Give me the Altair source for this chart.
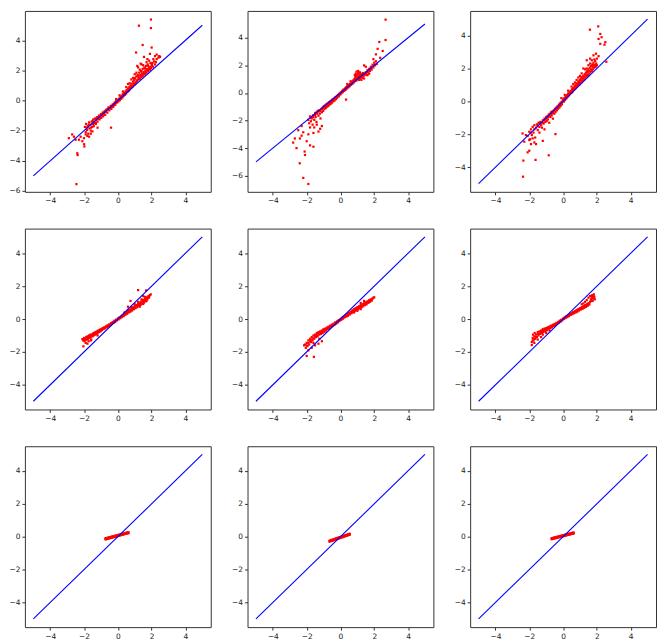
import altair as alt
import pandas as pd

# ---------------- data ----------------
LINE_X = [-5]
LINE_X2 = [5]
LINE_Y = [-5]
LINE_Y2 = [5]
X_TICKS = [-4, -2, 0, 2, 4]
X_DOMAIN = [-5.5, 5.5]

P1 = [
(-1.95,-1.75),(-1.9,-2.1),(-1.88,-1.55),(-1.82,-1.95),(-1.78,-1.7),(-1.75,-2.2),(-1.7,-1.45),(-1.68,-1.85),(-1.62,-1.6),(-1.6,-2.0),
(-1.55,-1.4),(-1.52,-1.75),(-1.48,-1.55),(-1.45,-1.25),(-1.42,-1.7),(-1.38,-1.4),(-1.35,-1.2),(-1.3,-1.5),(-1.27,-1.3),(-1.22,-1.1),
(-1.2,-1.4),(-1.15,-1.2),(-1.12,-1.0),(-1.08,-1.25),(-1.05,-1.05),(-1.0,-0.9),(-0.98,-1.15),(-0.93,-0.95),(-0.9,-0.8),(-0.87,-1.05),
(-0.82,-0.85),(-0.78,-0.7),(-0.75,-0.95),(-0.7,-0.75),(-0.66,-0.6),(-0.62,-0.8),(-0.58,-0.6),(-0.55,-0.45),(-0.5,-0.65),(-0.47,-0.5),
(-0.42,-0.35),(-0.38,-0.55),(-0.35,-0.4),(-0.3,-0.25),(-0.27,-0.42),(-0.22,-0.3),(-0.18,-0.12),(-0.15,-0.28),(-0.1,-0.15),(-0.06,0.0),
(-0.03,-0.12),(0.0,0.05),(0.04,-0.05),(0.08,0.12),(0.12,0.02),(0.15,0.22),(0.2,0.12),(0.22,0.32),(0.27,0.2),(0.3,0.42),
(0.34,0.3),(0.38,0.5),(0.42,0.38),(0.45,0.6),(0.5,0.48),(0.52,0.7),(0.57,0.58),(0.6,0.8),(0.64,0.65),(0.68,0.9),
(0.72,0.75),(0.75,1.0),(0.8,0.85),(0.82,1.12),(0.87,0.95),(0.9,1.25),(0.94,1.05),(0.97,1.35),(1.0,1.1),(1.03,1.5),
(1.07,1.2),(1.1,1.6),(1.13,1.3),(1.17,1.7),(1.2,1.4),(1.23,1.55),(1.27,1.85),(1.3,1.45),(1.33,1.7),(1.37,1.95),
(1.4,1.55),(1.43,1.8),(1.47,2.1),(1.5,1.65),(1.53,1.9),(1.57,2.2),(1.6,1.75),(1.63,2.0),(1.67,2.3),(1.7,1.85),
(1.73,2.1),(1.77,2.4),(1.8,1.95),(1.85,2.2),(1.9,2.05),(1.93,2.5),(1.97,2.15),(2.02,2.35),(2.08,2.25),(2.15,2.6),
(2.2,2.4),(2.3,2.75),(2.4,2.85),(2.5,2.9),(0.5,0.9),(0.7,1.15),(0.9,1.5),(1.1,1.85),(1.3,2.05),(1.5,2.35),
(1.7,2.55),(0.3,0.6),(0.1,0.35),(-0.1,0.1),(1.0,1.75),(1.2,2.2),(1.4,2.4),
(-1.85,-1.8),(-1.72,-1.6),(-1.58,-1.8),(-1.5,-1.35),(-1.4,-1.5),(-1.3,-1.2),(-1.2,-1.2),(-1.1,-1.1),(-1.0,-1.0),(-0.9,-0.95),
(-0.8,-0.78),(-0.7,-0.65),(-0.6,-0.55),(-0.5,-0.5),(-0.4,-0.42),(-0.3,-0.32),(-0.2,-0.2),(-0.1,-0.05),(0.05,0.05),(0.15,0.12),
(0.25,0.25),(0.35,0.38),(0.45,0.45),(0.55,0.6),(0.65,0.72),(0.75,0.85),(0.85,0.95),(0.95,1.1),(1.05,1.2),(1.15,1.35),
(1.25,1.45),(1.35,1.6),(1.45,1.7),(1.55,1.8),(1.65,1.9),(1.75,2.0),(1.85,2.1),(1.95,2.25),(2.05,2.5),(2.25,2.55),
(0.6,1.1),(0.8,1.4),(1.0,1.45),(1.2,1.65),(1.4,1.95),(1.6,2.15),(1.8,2.3),(2.0,2.45),
(-2.45,-5.55),(1.96,5.38),(1.25,4.97),(1.96,4.81),(1.47,3.69),(2.0,3.52),(1.08,3.19),(2.3,3.05),(2.2,2.95),(2.45,2.95),
(1.9,3.1),(1.75,2.75),(1.35,2.45),(1.15,2.3),(2.1,2.75),(1.55,2.9),(1.85,2.65),
(-2.4,-3.5),(-2.38,-3.62),(-2.0,-2.9),(-1.98,-3.05),(-2.1,-2.7),(-2.3,-2.6),(-2.6,-2.4),(-2.9,-2.5),(-2.7,-2.25),(-1.8,-2.35),
(-1.5,-2.05),(-0.4,-1.8),(-1.9,-2.25),(-1.6,-2.2),(-1.3,-1.55),(-1.2,-1.8),(-2.2,-2.4),(-2.5,-2.6),(-2.0,-2.5),(-1.7,-2.4),
]

P2 = [
(-1.9,-1.95),(-1.85,-2.2),(-1.8,-1.7),(-1.75,-2.05),(-1.7,-1.85),(-1.65,-2.3),(-1.6,-1.6),(-1.55,-1.95),(-1.5,-1.45),(-1.47,-1.75),
(-1.42,-2.1),(-1.38,-1.5),(-1.35,-1.3),(-1.3,-1.65),(-1.25,-1.25),(-1.22,-1.5),(-1.18,-1.85),(-1.15,-1.2),(-1.1,-1.4),(-1.05,-1.05),
(-1.02,-1.3),(-0.98,-0.95),(-0.95,-1.15),(-0.9,-0.9),(-0.87,-1.1),(-0.82,-0.8),(-0.8,-1.0),(-0.75,-0.75),(-0.72,-0.95),(-0.68,-0.68),
(-0.65,-0.85),(-0.6,-0.6),(-0.57,-0.78),(-0.52,-0.55),(-0.5,-0.7),(-0.45,-0.45),(-0.42,-0.6),(-0.38,-0.4),(-0.35,-0.55),(-0.3,-0.3),
(-0.27,-0.45),(-0.22,-0.22),(-0.2,-0.35),(-0.15,-0.15),(-0.1,-0.25),(-0.06,-0.05),(-0.02,-0.12),
(0.02,0.05),(0.06,-0.02),(0.1,0.15),(0.14,0.08),(0.18,0.25),(0.22,0.15),(0.26,0.3),(0.3,0.22),(0.34,0.42),(0.38,0.32),
(0.42,0.5),(0.46,0.4),(0.5,0.6),(0.54,0.48),(0.58,0.68),(0.62,0.58),(0.66,0.8),(0.7,0.65),(0.74,0.9),(0.78,0.75),
(0.82,1.0),(0.85,0.85),(0.88,1.15),(0.9,0.95),(0.93,1.25),(0.96,1.05),(1.0,1.35),(1.02,1.1),(1.05,1.45),(1.08,1.2),
(1.1,0.95),(1.12,1.3),(1.15,1.05),(1.18,1.4),(1.2,1.2),(1.24,0.95),(1.27,1.3),(1.3,1.1),(1.33,1.45),(1.37,1.25),
(1.4,1.05),(1.45,1.35),(1.5,1.5),(1.55,1.3),(1.6,1.65),(1.65,1.5),(1.7,1.75),(1.75,1.6),(1.8,1.9),(1.85,1.7),
(1.9,2.05),(1.95,1.85),(2.0,2.2),(2.05,2.0),(2.1,2.3),(2.15,2.1),(0.9,1.4),(0.95,1.55),(1.05,1.6),(0.6,0.85),
(0.4,0.65),(1.6,1.3),(1.7,1.4),(0.33,-0.48),
(-1.75,-1.8),(-1.62,-1.75),(-1.5,-1.6),(-1.4,-1.4),(-1.3,-1.35),(-1.2,-1.3),(-1.1,-1.15),(-1.0,-1.1),(-0.9,-1.0),(-0.8,-0.85),
(-0.7,-0.8),(-0.6,-0.7),(-0.5,-0.55),(-0.4,-0.5),(-0.3,-0.38),(-0.2,-0.28),(-0.1,-0.12),(0.0,-0.05),(0.1,0.05),(0.2,0.2),
(0.3,0.35),(0.4,0.45),(0.5,0.5),(0.6,0.65),(0.7,0.8),(0.8,0.9),(0.9,1.1),(1.0,1.2),(1.1,1.1),(1.2,1.35),
(1.3,1.25),(1.4,1.3),(1.5,1.4),(1.6,1.5),(1.8,1.75),(2.0,2.05),(0.85,1.3),(1.15,1.5),(1.25,1.15),(0.95,0.9),
(2.67,5.32),(2.67,3.84),(2.3,3.7),(2.5,3.05),(2.2,3.2),(2.1,2.8),(2.35,2.55),(1.95,2.45),(1.4,2.0),(1.5,1.9),
(-1.9,-6.6),(-2.2,-6.16),(-2.41,-5.1),(-2.1,-4.5),(-2.12,-4.25),(-2.6,-4.0),(-2.8,-3.6),(-2.7,-3.3),(-1.6,-3.9),(-1.8,-3.8),
(-2.0,-3.5),(-2.3,-3.1),(-2.5,-2.7),(-2.2,-2.85),(-1.6,-2.9),(-1.3,-2.8),(-1.1,-2.4),(-1.2,-2.6),(-1.9,-3.0),(-2.4,-3.3),
(-1.8,-2.5),(-2.3,-2.4),(-1.55,-2.5),(-1.4,-2.3),
]

P3 = [
(-2.1,-2.1),(-2.0,-1.85),(-1.95,-2.3),(-1.9,-1.7),(-1.85,-2.05),(-1.8,-1.55),(-1.75,-1.9),(-1.7,-1.45),(-1.65,-2.2),(-1.6,-1.6),
(-1.55,-1.4),(-1.5,-1.75),(-1.45,-1.3),(-1.4,-1.55),(-1.35,-1.25),(-1.3,-1.45),(-1.25,-1.6),(-1.2,-1.15),(-1.15,-1.35),(-1.1,-1.05),
(-1.05,-1.25),(-1.0,-0.95),(-0.97,-1.2),(-0.92,-0.9),(-0.9,-1.1),(-0.85,-0.8),(-0.82,-1.3),(-0.78,-0.75),(-0.75,-0.95),(-0.7,-0.65),
(-0.67,-0.85),(-0.62,-0.6),(-0.6,-1.05),(-0.55,-0.55),(-0.52,-0.75),(-0.48,-0.45),(-0.45,-0.65),(-0.4,-0.38),(-0.37,-0.55),(-0.33,-0.3),
(-0.3,-0.45),(-0.25,-0.2),(-0.22,-0.38),(-0.18,-0.12),(-0.15,-0.28),(-0.1,-0.05),(-0.07,-0.18),(-0.03,0.02),
(0.0,0.1),(0.04,-0.02),(0.08,0.2),(0.12,0.08),(0.15,0.3),(0.2,0.18),(0.23,0.38),(0.27,0.28),(0.3,0.48),(0.34,0.36),
(0.38,0.56),(0.42,0.44),(0.45,0.64),(0.5,0.52),(0.53,0.74),(0.57,0.6),(0.6,0.82),(0.65,0.7),(0.68,0.92),(0.72,0.8),
(0.75,1.02),(0.8,0.88),(0.83,1.1),(0.87,0.98),(0.9,1.2),(0.95,1.05),(0.98,1.3),(1.02,1.12),(1.05,1.4),(1.1,1.2),
(1.13,1.48),(1.17,1.28),(1.2,1.56),(1.25,1.35),(1.28,1.65),(1.32,1.45),(1.35,1.75),(1.4,1.52),(1.43,1.85),(1.47,1.6),
(1.5,1.95),(1.55,1.68),(1.58,2.05),(1.62,1.78),(1.66,2.15),(1.7,1.85),(1.73,2.25),(1.77,1.95),(1.8,2.35),(1.84,2.05),
(1.88,2.2),(1.92,2.1),(1.96,2.3),(2.0,2.2),(1.85,2.55),(1.7,2.5),(0.5,0.9),(0.7,1.15),(0.9,1.45),(1.1,1.7),
(1.3,1.95),(0.3,0.65),(0.1,0.4),(-0.1,0.2),(1.5,2.2),(1.2,2.0),
(-1.9,-1.9),(-1.7,-1.7),(-1.5,-1.5),(-1.4,-1.35),(-1.3,-1.3),(-1.2,-1.3),(-1.1,-1.15),(-1.0,-1.05),(-0.9,-0.95),(-0.8,-0.9),
(-0.7,-0.75),(-0.6,-0.7),(-0.5,-0.55),(-0.4,-0.48),(-0.3,-0.35),(-0.2,-0.25),(-0.1,-0.12),(0.05,0.15),(0.15,0.22),(0.25,0.35),
(0.35,0.45),(0.45,0.55),(0.55,0.68),(0.65,0.8),(0.75,0.92),(0.85,1.05),(0.95,1.18),(1.05,1.28),(1.15,1.4),(1.25,1.5),
(1.35,1.6),(1.45,1.75),(1.55,1.85),(1.65,1.95),(1.75,2.1),(1.85,2.2),(1.95,2.15),(0.6,1.05),(0.8,1.3),(1.0,1.55),
(1.4,2.0),(1.6,2.3),
(-2.37,-4.58),(-2.35,-3.6),(-1.63,-3.56),(-0.85,-3.28),(-2.1,-3.1),(-2.0,-3.0),(-1.9,-2.6),(-1.7,-2.5),(-1.6,-2.6),(-1.2,-2.4),
(-0.45,-1.99),(-2.4,-1.95),(-2.2,-2.05),(-2.0,-2.35),(-1.8,-2.25),(-2.3,-2.45),(-1.4,-1.9),(-1.1,-1.7),
(1.59,4.36),(2.08,4.56),(2.2,4.1),(2.28,3.9),(2.1,3.8),(2.2,3.5),(2.5,3.6),(2.45,3.45),(1.8,2.8),(1.6,2.6),
(2.0,2.6),(2.56,2.41),(1.4,2.5),(1.75,2.2),(1.9,2.45),(2.1,2.75),(1.95,2.9),
]

P4 = [
(-2.1,-1.22),(-2.05,-1.3),(-2.0,-1.15),(-1.97,-1.35),(-1.93,-1.2),(-1.9,-1.45),(-1.87,-1.1),(-1.83,-1.25),(-1.8,-1.05),(-1.77,-1.2),
(-1.73,-1.35),(-1.7,-1.0),(-1.67,-1.15),(-1.63,-0.95),(-1.6,-1.1),(-1.57,-1.25),(-1.53,-0.95),(-1.5,-1.05),(-1.47,-0.88),(-1.43,-1.0),
(-1.4,-0.85),(-1.37,-0.95),(-1.33,-0.8),(-1.3,-0.92),(-1.27,-0.78),(-1.23,-0.88),(-1.2,-0.72),(-1.17,-0.82),(-1.13,-0.7),(-1.1,-0.78),
(-1.07,-0.65),(-1.03,-0.75),(-1.0,-0.62),(-0.95,-0.68),(-0.9,-0.55),(-0.85,-0.62),(-0.8,-0.5),(-0.75,-0.56),(-0.7,-0.44),(-0.65,-0.5),
(-0.6,-0.38),(-0.55,-0.45),(-0.5,-0.32),(-0.45,-0.38),(-0.4,-0.25),(-0.35,-0.3),(-0.3,-0.18),(-0.25,-0.24),(-0.2,-0.1),(-0.15,-0.16),
(-0.1,-0.04),(-0.05,-0.08),(0.0,0.02),(0.05,-0.02),(0.1,0.1),(0.15,0.05),(0.2,0.16),(0.25,0.12),(0.3,0.24),(0.35,0.18),
(0.4,0.32),(0.45,0.26),(0.5,0.4),(0.55,0.32),(0.6,0.46),(0.65,0.4),(0.7,0.55),(0.75,0.45),(0.8,0.62),(0.85,0.52),
(0.9,0.7),(0.95,0.6),(1.0,0.78),(1.05,0.66),(1.1,0.85),(1.15,0.72),(1.2,0.92),(1.25,0.8),(1.3,1.0),(1.35,0.86),
(1.4,1.08),(1.45,0.92),(1.5,1.15),(1.55,1.0),(1.6,1.22),(1.65,1.08),(1.7,1.3),(1.75,1.2),(1.8,1.38),(1.85,1.3),
(1.9,1.45),(1.95,1.5),(1.6,1.35),(1.4,1.2),(1.2,1.05),(1.0,0.9),(0.8,0.72),(0.6,0.55),(0.4,0.4),(1.3,0.75),
(1.5,0.92),(1.7,1.1),(-1.8,-1.5),(-2.04,-1.66),(1.2,1.76),(1.67,1.74),(0.75,1.1),(0.6,0.75),(1.5,1.4),(-1.6,-1.3),
(-1.2,-1.0),
(-2.0,-1.28),(-1.9,-1.25),(-1.8,-1.15),(-1.7,-1.1),(-1.6,-1.02),(-1.5,-0.95),(-1.4,-0.92),(-1.3,-0.85),(-1.2,-0.8),(-1.1,-0.72),
(-1.0,-0.68),(-0.9,-0.6),(-0.8,-0.55),(-0.7,-0.48),(-0.6,-0.42),(-0.5,-0.36),(-0.4,-0.3),(-0.3,-0.22),(-0.2,-0.14),(-0.1,-0.06),
(0.05,0.06),(0.15,0.1),(0.25,0.2),(0.35,0.26),(0.45,0.34),(0.55,0.4),(0.65,0.48),(0.75,0.55),(0.85,0.62),(0.95,0.7),
(1.05,0.76),(1.15,0.84),(1.25,0.9),(1.35,0.98),(1.45,1.05),(1.55,1.1),(1.65,1.2),(1.75,1.32),(1.85,1.4),
]

P5 = [
(-2.1,-1.55),(-2.05,-1.75),(-2.0,-1.45),(-1.95,-1.65),(-1.9,-1.3),(-1.85,-1.55),(-1.8,-1.2),(-1.75,-1.4),(-1.7,-1.1),(-1.65,-1.3),
(-1.6,-1.0),(-1.55,-1.2),(-1.5,-0.95),(-1.45,-1.1),(-1.4,-0.85),(-1.35,-1.05),(-1.3,-0.8),(-1.25,-0.95),(-1.2,-0.75),(-1.15,-0.9),
(-1.1,-0.7),(-1.05,-0.85),(-1.0,-0.62),(-0.95,-0.78),(-0.9,-0.58),(-0.85,-0.7),(-0.8,-0.52),(-0.75,-0.62),(-0.7,-0.46),(-0.65,-0.55),
(-0.6,-0.4),(-0.55,-0.48),(-0.5,-0.34),(-0.45,-0.42),(-0.4,-0.28),(-0.35,-0.35),(-0.3,-0.2),(-0.25,-0.28),(-0.2,-0.14),(-0.15,-0.2),
(-0.1,-0.06),(-0.05,-0.12),(0.0,0.0),(0.05,-0.05),(0.1,0.08),(0.15,0.02),(0.2,0.15),(0.25,0.1),(0.3,0.22),(0.35,0.15),
(0.4,0.3),(0.45,0.2),(0.5,0.38),(0.55,0.28),(0.6,0.45),(0.65,0.35),(0.7,0.52),(0.75,0.42),(0.8,0.6),(0.85,0.48),
(0.9,0.66),(0.95,0.55),(1.0,0.72),(1.05,0.6),(1.1,0.78),(1.15,0.66),(1.2,0.85),(1.25,0.72),(1.3,0.9),(1.35,0.78),
(1.4,0.96),(1.45,0.85),(1.5,1.02),(1.55,0.9),(1.6,1.08),(1.65,0.98),(1.7,1.15),(1.75,1.05),(1.8,1.2),(1.85,1.12),
(1.9,1.25),(1.95,1.3),(2.0,1.32),(1.0,0.5),(1.2,0.6),(0.8,0.4),(1.4,1.1),(1.2,0.98),
(-2.0,-1.6),(-1.9,-1.45),(-1.8,-1.35),(-1.7,-1.25),(-1.6,-1.15),(-1.5,-1.05),(-1.4,-0.98),(-1.3,-0.9),(-1.2,-0.82),(-1.1,-0.78),
(-1.0,-0.7),(-0.9,-0.64),(-0.8,-0.58),(-0.7,-0.5),(-0.6,-0.44),(-0.5,-0.38),(-0.4,-0.32),(-0.3,-0.24),(-0.2,-0.18),(-0.1,-0.1),
(0.05,0.02),(0.15,0.08),(0.25,0.16),(0.35,0.22),(0.45,0.28),(0.55,0.36),(0.65,0.42),(0.75,0.5),(0.85,0.55),(0.95,0.62),
(1.05,0.68),(1.15,0.74),(1.25,0.8),(1.35,0.86),(1.45,0.92),(1.55,0.98),(1.65,1.05),(1.75,1.1),(1.85,1.18),
(-2.0,-2.24),(-1.57,-2.3),(-1.9,-1.9),(-1.7,-1.75),(-1.3,-1.5),(-1.1,-1.35),(-1.5,-1.6),(-1.25,-1.2),(-1.6,-1.45),(-2.15,-1.6),
]

P6 = [
(-1.85,-1.58),(-1.85,-1.4),(-1.8,-1.15),(-1.78,-0.95),(-1.75,-1.3),(-1.7,-1.05),(-1.68,-0.85),(-1.65,-1.2),(-1.6,-0.95),(-1.55,-1.1),
(-1.5,-0.8),(-1.45,-1.0),(-1.4,-0.75),(-1.35,-0.9),(-1.3,-0.7),(-1.25,-0.85),(-1.2,-0.62),(-1.15,-0.78),(-1.1,-0.58),(-1.05,-0.72),
(-1.0,-0.55),(-0.95,-0.68),(-0.9,-0.5),(-0.85,-0.6),(-0.8,-0.45),(-0.75,-0.55),(-0.7,-0.4),(-0.65,-0.5),(-0.6,-0.35),(-0.55,-0.42),
(-0.5,-0.3),(-0.45,-0.36),(-0.4,-0.24),(-0.35,-0.3),(-0.3,-0.18),(-0.25,-0.22),(-0.2,-0.1),(-0.15,-0.16),(-0.1,-0.04),(-0.05,-0.08),
(0.0,0.02),(0.05,0.0),(0.1,0.1),(0.15,0.06),(0.2,0.18),(0.25,0.12),(0.3,0.24),(0.35,0.18),(0.4,0.3),(0.45,0.25),
(0.5,0.36),(0.55,0.3),(0.6,0.42),(0.65,0.35),(0.7,0.48),(0.75,0.4),(0.8,0.55),(0.85,0.45),(0.9,0.6),(0.95,0.52),
(1.0,0.66),(1.05,0.58),(1.1,0.72),(1.15,0.62),(1.2,0.78),(1.25,0.68),(1.3,0.84),(1.35,0.74),(1.4,0.9),(1.45,0.8),
(1.5,0.96),(1.55,0.88),(1.6,1.05),(1.65,1.2),(1.7,1.3),(1.72,1.45),(1.75,1.1),(1.78,1.38),(1.8,1.25),(1.82,1.5),
(1.85,1.35),(1.88,1.2),(1.6,1.4),(1.5,1.3),(1.4,1.15),(1.3,1.05),(-1.5,-1.25),(-1.3,-1.1),(-1.0,-0.85),(-0.8,-0.7),
(-1.7,-1.45),(-1.2,-0.95),(1.2,0.95),(1.1,0.9),
(-1.8,-1.3),(-1.7,-1.2),(-1.6,-1.1),(-1.5,-0.92),(-1.4,-0.88),(-1.3,-0.8),(-1.2,-0.72),(-1.1,-0.68),(-1.0,-0.62),(-0.9,-0.58),
(-0.8,-0.52),(-0.7,-0.46),(-0.6,-0.4),(-0.5,-0.34),(-0.4,-0.28),(-0.3,-0.22),(-0.2,-0.14),(-0.1,-0.08),(0.05,0.05),(0.15,0.12),
(0.25,0.18),(0.35,0.24),(0.45,0.3),(0.55,0.36),(0.65,0.42),(0.75,0.48),(0.85,0.52),(0.95,0.6),(1.05,0.66),(1.15,0.7),
(1.25,0.76),(1.35,0.82),(1.45,0.88),(1.55,0.95),(1.65,1.1),(1.75,1.25),(1.8,1.4),(1.7,1.4),
]

P7_X = [-0.73,-0.7,-0.65,-0.6,-0.55,-0.5,-0.45,-0.4,-0.35,-0.3,-0.25,-0.2,-0.15,-0.1,-0.05,0.0,0.05,0.1,0.15,0.2,0.25,0.3,0.35,0.4,0.45,0.5,0.55,0.6,0.63]
P7_Y = [-0.16,-0.15,-0.14,-0.12,-0.11,-0.10,-0.08,-0.07,-0.05,-0.04,-0.03,-0.01,0.00,0.02,0.03,0.04,0.06,0.07,0.09,0.10,0.11,0.13,0.14,0.16,0.17,0.18,0.20,0.21,0.22]
P7_Y2 = [-0.10,-0.09,-0.08,-0.07,-0.05,-0.04,-0.03,-0.01,0.00,0.01,0.03,0.04,0.06,0.07,0.08,0.10,0.11,0.12,0.14,0.15,0.17,0.18,0.19,0.21,0.22,0.24,0.25,0.26,0.27]

P8_X = [-0.65,-0.6,-0.55,-0.5,-0.45,-0.4,-0.35,-0.3,-0.25,-0.2,-0.15,-0.1,-0.05,0.0,0.05,0.1,0.15,0.2,0.25,0.3,0.35,0.4,0.45,0.5,0.55]
P8_Y = [-0.30,-0.28,-0.26,-0.25,-0.23,-0.21,-0.19,-0.17,-0.16,-0.14,-0.12,-0.10,-0.09,-0.07,-0.05,-0.03,-0.02,0.00,0.02,0.04,0.05,0.07,0.09,0.11,0.12]
P8_Y2 = [-0.25,-0.23,-0.21,-0.19,-0.18,-0.16,-0.14,-0.12,-0.10,-0.09,-0.07,-0.05,-0.03,-0.02,0.00,0.02,0.04,0.05,0.07,0.09,0.11,0.12,0.14,0.16,0.18]

P9_X = [-0.68,-0.65,-0.6,-0.55,-0.5,-0.45,-0.4,-0.35,-0.3,-0.25,-0.2,-0.15,-0.1,-0.05,0.0,0.05,0.1,0.15,0.2,0.25,0.3,0.35,0.4,0.45,0.5,0.55,0.6,0.62]
P9_Y = [-0.15,-0.14,-0.13,-0.11,-0.10,-0.09,-0.07,-0.06,-0.05,-0.03,-0.02,-0.01,0.01,0.02,0.03,0.05,0.06,0.07,0.09,0.10,0.11,0.13,0.14,0.15,0.17,0.18,0.19,0.20]
P9_Y2 = [-0.10,-0.09,-0.08,-0.06,-0.05,-0.04,-0.02,-0.01,0.00,0.02,0.03,0.04,0.06,0.07,0.08,0.10,0.11,0.12,0.14,0.15,0.16,0.18,0.19,0.20,0.22,0.23,0.24,0.25]

Y_DOMAINS = [[-6.06, 5.95], [-7.17, 5.95], [-5.5, 5.5],
             [-5.5, 5.5], [-5.5, 5.5], [-5.5, 5.5],
             [-5.5, 5.5], [-5.5, 5.5], [-5.5, 5.5]]
Y_TICKS = [[-6, -4, -2, 0, 2, 4], [-6, -4, -2, 0, 2, 4], [-4, -2, 0, 2, 4],
           [-4, -2, 0, 2, 4], [-4, -2, 0, 2, 4], [-4, -2, 0, 2, 4],
           [-4, -2, 0, 2, 4], [-4, -2, 0, 2, 4], [-4, -2, 0, 2, 4]]


def band(xs, ya, yb):
    return list(zip(xs, ya)) + list(zip(xs, yb))


PANELS = [P1, P2, P3, P4, P5, P6,
          band(P7_X, P7_Y, P7_Y2), band(P8_X, P8_Y, P8_Y2), band(P9_X, P9_Y, P9_Y2)]

W, H = 187, 182


def panel(points, ydom, yticks):
    xs = alt.Scale(domain=X_DOMAIN, nice=False, zero=False)
    ys = alt.Scale(domain=ydom, nice=False, zero=False)
    xa = alt.Axis(values=X_TICKS, title=None)
    ya = alt.Axis(values=yticks, title=None)
    df = pd.DataFrame(points, columns=["x", "y"])
    dots = alt.Chart(df).mark_square(size=5, color="#ff0000", opacity=1).encode(
        x=alt.X("x:Q", scale=xs, axis=xa),
        y=alt.Y("y:Q", scale=ys, axis=ya),
    )
    ldf = pd.DataFrame({"x": LINE_X, "x2": LINE_X2, "y": LINE_Y, "y2": LINE_Y2})
    line = alt.Chart(ldf).mark_rule(color="#0000ff", stroke="#0000ff", strokeWidth=1.1).encode(
        x=alt.X("x:Q", scale=xs, axis=xa),
        x2="x2:Q",
        y=alt.Y("y:Q", scale=ys, axis=ya),
        y2="y2:Q",
    )
    return alt.layer(dots, line).properties(width=W, height=H)


charts = [panel(p, d, t) for p, d, t in zip(PANELS, Y_DOMAINS, Y_TICKS)]

chart = alt.concat(*charts, columns=3, spacing=37, bounds="flush").properties(
    padding={"left": 0, "top": 0, "right": 0, "bottom": 0}
).configure_axis(
    grid=False,
    domain=False,
    tickSize=3,
    tickColor="#333333",
    labelColor="#222222",
    labelFont="DejaVu Sans",
    labelFontSize=7.5,
    labelPadding=2,
).configure_view(
    stroke="#333333",
    strokeWidth=1,
)

chart.save("out.html", embed_options={"renderer": "svg", "actions": False})
